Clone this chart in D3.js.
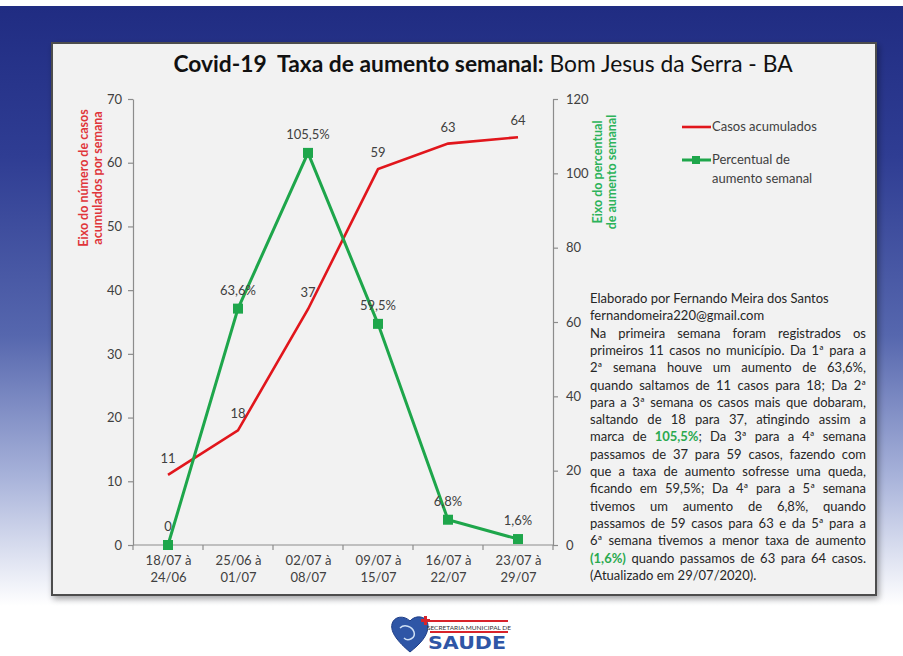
<!DOCTYPE html>
<html><head><meta charset="utf-8">
<script src="https://cdn.jsdelivr.net/npm/d3@7"></script>
<style>html,body{margin:0;padding:0;background:#fff;overflow:hidden} svg{display:block}</style>
</head><body><svg id="c" width="903" height="656"></svg>
<script>
// ---- data ----
const categories = ["18/07 à 24/06", "25/06 à 01/07", "02/07 à 08/07", "09/07 à 15/07", "16/07 à 22/07", "23/07 à 29/07"];
const casos = [11, 18, 37, 59, 63, 64];
const percentual = [0, 63.6, 105.5, 59.5, 6.8, 1.6];
const leftTicks = [0, 10, 20, 30, 40, 50, 60, 70];
const rightTicks = [0, 20, 40, 60, 80, 100, 120];
const seriesNames = ["Casos acumulados", "Percentual de aumento semanal"];
const title = ["Covid-19  Taxa de aumento semanal:", " Bom Jesus da Serra - BA"];
const leftAxisTitle = ["Eixo do número de casos", "acumulados por semana"];
const rightAxisTitle = ["Eixo do percentual", "de aumento semanal"];
const noteLines = [
  {t: "Elaborado por Fernando Meira dos Santos", j: false},
  {t: "fernandomeira220@gmail.com", j: false},
  {t: "Na primeira semana foram registrados os", j: true},
  {t: "primeiros 11 casos no município. Da 1ª para a", j: true},
  {t: "2ª semana houve um aumento de 63,6%,", j: true},
  {t: "quando saltamos de 11 casos para 18; Da 2ª", j: true},
  {t: "para a 3ª semana os casos mais que dobaram,", j: true},
  {t: "saltando de 18 para 37, atingindo assim a", j: true},
  {t: "marca de [105,5%]; Da 3ª para a 4ª semana", j: true},
  {t: "passamos de 37 para 59 casos, fazendo com", j: true},
  {t: "que a taxa de aumento sofresse uma queda,", j: true},
  {t: "ficando em 59,5%;  Da 4ª para a 5ª semana", j: true},
  {t: "tivemos  um aumento de 6,8%, quando", j: true},
  {t: "passamos de 59 casos para 63 e da 5ª para a", j: true},
  {t: "6ª semana tivemos a menor taxa de aumento", j: true},
  {t: "[(1,6%)] quando passamos de 63 para 64 casos.", j: true},
  {t: "(Atualizado em 29/07/2020).", j: false}
];

// ---- style ----
const FONT = "Lato, 'Open Sans', sans-serif";
const RED = "#e1161c", GREEN = "#1ea64b", TXT = "#404040", AX = "#8c8c8c";

const svg = d3.select("#c");
const defs = svg.append("defs");
const bg = defs.append("linearGradient").attr("id", "bg").attr("x1", 0).attr("y1", 0).attr("x2", 0).attr("y2", 1);
[[0, "#202c82"], [0.25, "#2f3d93"], [0.55, "#5667ae"], [0.78, "#a6b1d9"], [1, "#ffffff"]].forEach(s =>
  bg.append("stop").attr("offset", s[0]).attr("stop-color", s[1]));
const sh = defs.append("filter").attr("id", "sh").attr("x", "-5%").attr("y", "-5%").attr("width", "110%").attr("height", "110%");
sh.append("feGaussianBlur").attr("in", "SourceAlpha").attr("stdDeviation", 3);
sh.append("feOffset").attr("dx", 2).attr("dy", 3).attr("result", "b");
sh.append("feComponentTransfer").append("feFuncA").attr("type", "linear").attr("slope", 0.35);
const mg = sh.append("feMerge"); mg.append("feMergeNode"); mg.append("feMergeNode").attr("in", "SourceGraphic");

svg.append("rect").attr("x", 0).attr("y", 0).attr("width", 903).attr("height", 656).attr("fill", "#fff");
svg.append("rect").attr("x", 0).attr("y", 6).attr("width", 903).attr("height", 600).attr("fill", "url(#bg)");

// panel
svg.append("rect").attr("x", 52).attr("y", 43).attr("width", 824).attr("height", 552)
  .attr("fill", "#f2f2f2").attr("stroke", "#4d4d4d").attr("stroke-width", 2).attr("filter", "url(#sh)");

// title
const tt = svg.append("text").attr("x", 483).attr("y", 72).attr("text-anchor", "middle")
  .attr("font-family", FONT).attr("font-size", 22.8).attr("fill", "#111").attr("xml:space", "preserve");
tt.append("tspan").attr("font-weight", "bold").text(title[0]);
tt.append("tspan").text(title[1]);

// scales
const x = d3.scalePoint().domain(categories).range([133, 553]).padding(0.5);
const xb = d3.scaleBand().domain(categories).range([133, 553]);
const yL = d3.scaleLinear().domain([0, 70]).range([545, 99]);
const yR = d3.scaleLinear().domain([0, 120]).range([545, 99]);

function styleAxis(g) {
  g.selectAll("path, line").attr("stroke", AX).attr("stroke-width", 1.2);
  g.selectAll("text").attr("font-family", FONT).attr("font-size", 13).attr("fill", TXT);
}
svg.append("g").attr("transform", "translate(133,0)")
  .call(d3.axisLeft(yL).tickValues(leftTicks).tickSize(5).tickSizeOuter(0).tickPadding(6)).call(styleAxis);
svg.append("g").attr("transform", "translate(553,0)")
  .call(d3.axisRight(yR).tickValues(rightTicks).tickSize(5).tickSizeOuter(0).tickPadding(8)).call(styleAxis);

// x axis: boundary ticks + two-line labels
const xg = svg.append("g").attr("transform", "translate(0,545)");
xg.call(d3.axisBottom(x).tickSize(0).tickSizeOuter(0).tickPadding(0)).call(styleAxis);
xg.select(".domain").attr("d", "M133,0H553");
xg.selectAll(".tick text").each(function(d) {
  const parts = d.split(" à ");
  const t = d3.select(this).text(null).attr("y", 0);
  t.append("tspan").attr("x", 0).attr("dy", 20).text(parts[0] + " à");
  t.append("tspan").attr("x", 0).attr("dy", 17).text(parts[1]);
});
xg.selectAll(".bt").data(categories.concat(["_end"])).enter().append("line").attr("class", "bt")
  .attr("x1", (d, i) => 133 + i * xb.step()).attr("x2", (d, i) => 133 + i * xb.step())
  .attr("y1", 0).attr("y2", 5).attr("stroke", AX).attr("stroke-width", 1.2);

// axis titles
function vtitle(lines, cx, cy, color) {
  const t = svg.append("text").attr("transform", `translate(${cx},${cy}) rotate(-90)`)
    .attr("text-anchor", "middle").attr("font-family", FONT).attr("font-size", 12.5)
    .attr("font-weight", "bold").attr("fill", color);
  lines.forEach((l, i) => t.append("tspan").attr("x", 0).attr("dy", i === 0 ? 0 : 14).text(l));
}
vtitle(leftAxisTitle, 88, 178, "#e0353a");
vtitle(rightAxisTitle, 602, 172, "#2db35a");

// lines
const lineL = d3.line().x((d, i) => x(categories[i])).y(d => yL(d));
const lineR = d3.line().x((d, i) => x(categories[i])).y(d => yR(d));
svg.append("path").datum(casos).attr("d", lineL).attr("fill", "none").attr("stroke", RED).attr("stroke-width", 2.6);
svg.append("path").datum(percentual).attr("d", lineR).attr("fill", "none").attr("stroke", GREEN).attr("stroke-width", 3);
svg.selectAll(".mk").data(percentual).enter().append("rect").attr("class", "mk")
  .attr("x", (d, i) => x(categories[i]) - 5).attr("y", d => yR(d) - 5)
  .attr("width", 10).attr("height", 10).attr("fill", GREEN);

// data labels
const br = d3.formatLocale({decimal: ",", thousands: ".", grouping: [3], currency: ["R$", ""]});
const fmtP = d => d === 0 ? "0" : br.format(".1f")(d) + "%";
svg.selectAll(".lr").data(casos).enter().append("text")
  .attr("x", (d, i) => x(categories[i])).attr("y", d => yL(d) - 12)
  .attr("text-anchor", "middle").attr("font-family", FONT).attr("font-size", 13).attr("fill", TXT)
  .text(d => d);
svg.selectAll(".lg").data(percentual).enter().append("text")
  .attr("x", (d, i) => x(categories[i])).attr("y", d => yR(d) - 14)
  .attr("text-anchor", "middle").attr("font-family", FONT).attr("font-size", 13).attr("fill", TXT)
  .text(fmtP);

// legend
const lg = svg.append("g").attr("font-family", FONT).attr("font-size", 13).attr("fill", TXT);
lg.append("line").attr("x1", 682).attr("x2", 711).attr("y1", 127).attr("y2", 127).attr("stroke", RED).attr("stroke-width", 2.6);
lg.append("text").attr("x", 712).attr("y", 131).text(seriesNames[0]);
lg.append("line").attr("x1", 682).attr("x2", 711).attr("y1", 160).attr("y2", 160).attr("stroke", GREEN).attr("stroke-width", 3);
lg.append("rect").attr("x", 692).attr("y", 156).attr("width", 8).attr("height", 8).attr("fill", GREEN);
const l2 = lg.append("text").attr("x", 712).attr("y", 164);
l2.append("tspan").attr("x", 712).text("Percentual de");
l2.append("tspan").attr("x", 712).attr("dy", 19).text("aumento semanal");

// note text (justified)
const NX = 590, NW = 276, NY0 = 303, LH = 17.3;
noteLines.forEach((ln, li) => {
  const t = svg.append("text").attr("y", NY0 + li * LH).attr("font-family", FONT)
    .attr("font-size", 13).attr("fill", "#262626").attr("xml:space", "preserve");
  const words = ln.t.split(/\s+/);
  const items = words.map(w => {
    const segs = [];
    const re = /\[([^\]]+)\]|([^\[]+)/g; let m;
    while ((m = re.exec(w))) segs.push(m[1] ? {s: m[1], g: true} : {s: m[2], g: false});
    const nodes = segs.map(sg => t.append("tspan").text(sg.s)
      .attr("fill", sg.g ? "#2aa94e" : null).attr("font-weight", sg.g ? "bold" : null));
    const w0 = nodes.reduce((a, n) => a + n.node().getComputedTextLength(), 0);
    return {nodes, w: w0};
  });
  const total = items.reduce((a, it) => a + it.w, 0);
  const space = 3.3;
  let gap = space;
  if (ln.j && items.length > 1) gap = Math.max(2, (NW - total) / (items.length - 1));
  let cx = NX;
  items.forEach(it => { it.nodes[0].attr("x", cx); cx += it.w + gap; });
});

// logo (approximation)
const logo = svg.append("g");
logo.append("path").attr("d", "M410,652 C398,642 390,632 392,624 C394,616 404,615 410,621 C416,614 428,616 428,626 C428,636 420,644 410,652 Z")
  .attr("fill", "#2f56a6").attr("stroke", "#1d3c86").attr("stroke-width", 1);
logo.append("path").attr("d", "M400,628 C404,624 412,626 414,632 C416,638 408,642 404,638").attr("fill", "none").attr("stroke", "#cfe0f5").attr("stroke-width", 1.5);
logo.append("rect").attr("x", 424).attr("y", 616).attr("width", 3).attr("height", 9).attr("fill", "#d8232a");
logo.append("rect").attr("x", 421).attr("y", 619).attr("width", 9).attr("height", 3).attr("fill", "#d8232a");
logo.append("rect").attr("x", 430).attr("y", 620).attr("width", 78).attr("height", 2).attr("fill", "#d8232a");
logo.append("rect").attr("x", 430).attr("y", 631).attr("width", 78).attr("height", 2).attr("fill", "#d8232a");
logo.append("text").attr("x", 469).attr("y", 629.5).attr("text-anchor", "middle").attr("font-family", FONT)
  .attr("font-size", 6.5).attr("fill", "#333").text("SECRETARIA MUNICIPAL DE");
logo.append("text").attr("x", 467).attr("y", 649).attr("text-anchor", "middle").attr("font-family", "'DejaVu Sans', sans-serif")
  .attr("font-weight", "bold").attr("font-size", 17).attr("fill", "#2f56a6").attr("textLength", 78).attr("lengthAdjust", "spacingAndGlyphs").text("SAUDE");
</script>
</body></html>
